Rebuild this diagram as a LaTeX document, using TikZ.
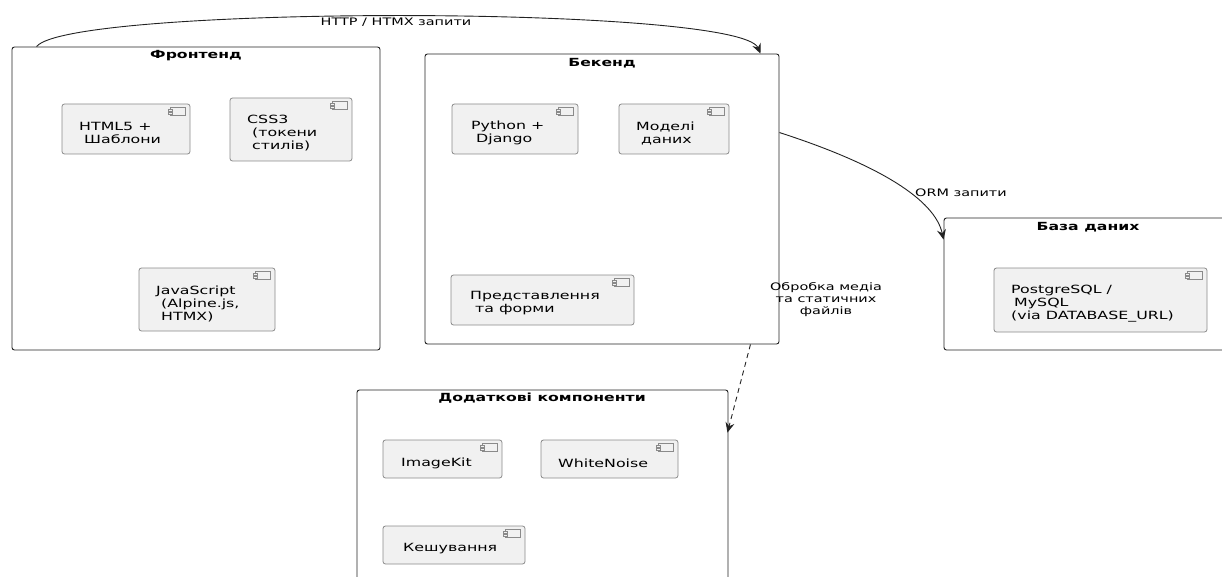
\documentclass[tikz,border=0pt]{standalone}
\usepackage{fontspec}
\setmainfont{DejaVu Sans}[FakeStretch=1.4]
\usetikzlibrary{calc,arrows.meta}
\definecolor{compfill}{HTML}{F1F1F1}
\definecolor{compline}{HTML}{8A8A8A}
\definecolor{grpline}{HTML}{222222}
\tikzset{
  grp/.style={draw=grpline, line width=0.9pt, rounded corners=2.5pt, inner sep=0pt},
  comp/.style={draw=compline, fill=compfill, line width=0.8pt, rounded corners=2.5pt, inner sep=0pt},
  grptitle/.style={font=\fontsize{11.2pt}{12pt}\selectfont\bfseries, inner sep=0pt},
  comptext/.style={font=\fontsize{11.3pt}{13pt}\selectfont, align=left, anchor=west, inner sep=0pt},
  elabel/.style={font=\fontsize{10.3pt}{12pt}\selectfont, inner sep=0pt},
  iconst/.style={draw=compline, line width=0.6pt, fill=compfill},
  conn/.style={draw=grpline, line width=0.9pt, -{Stealth[length=10pt,width=9pt,inset=3.5pt]}}
}
\newcommand\compicon[1]{%
  \draw[iconst] ($(#1.north east)+(-20,4)$) rectangle ($(#1.north east)+(-5,12)$);
  \draw[iconst] ($(#1.north east)+(-22,5.5)$) rectangle ($(#1.north east)+(-18,7.5)$);
  \draw[iconst] ($(#1.north east)+(-22,8.5)$) rectangle ($(#1.north east)+(-18,10.5)$);
}
\begin{document}
\begin{tikzpicture}[x=1pt,y=-1pt]
\useasboundingbox (0,0) rectangle (1222,577);
\clip (0,0) rectangle (1222,577);
% groups
\node[grp, minimum width=368pt, minimum height=303pt] (fe) at (196,198.5) {};
\node[grptitle] (fe-t) at (196,56) {Фронтенд};
\node[grp, minimum width=354pt, minimum height=290pt] (be) at (602,199) {};
\node[grptitle] (be-t) at (602,63) {Бекенд};
\node[grp, minimum width=296pt, minimum height=132pt] (db) at (1092,284) {};
\node[grptitle] (db-t) at (1088,227) {База даних};
\node[grp, minimum width=371pt, minimum height=210pt] (ad) at (542.5,495) {};
\node[grptitle] (ad-t) at (542,398) {Додаткові компоненти};
% components
\node[comp, minimum width=128pt, minimum height=50pt] (html) at (126,129) {};
\node[comptext] (html-t) at (79,133) {HTML5 +\\\hspace*{5pt}Шаблони};
\compicon{html}
\node[comp, minimum width=122pt, minimum height=63pt] (css) at (291,129.5) {};
\node[comptext] (css-t) at (247,133) {CSS3\\\hspace*{5pt}(токени\\\hspace*{5pt}стилів)};
\compicon{css}
\node[comp, minimum width=136pt, minimum height=63pt] (js) at (207,299.5) {};
\node[comptext] (js-t) at (156,304) {JavaScript\\\hspace*{5pt}(Alpine.js,\\\hspace*{5pt}HTMX)};
\compicon{js}
\node[comp, minimum width=126pt, minimum height=50pt] (py) at (515,129) {};
\node[comptext] (py-t) at (471,133) {Python +\\\hspace*{5pt}Django};
\compicon{py}
\node[comp, minimum width=110pt, minimum height=50pt] (models) at (674,129) {};
\node[comptext] (models-t) at (636,133) {Моделі\\\hspace*{5pt}даних};
\compicon{models}
\node[comp, minimum width=183pt, minimum height=50pt] (views) at (542.5,300) {};
\node[comptext] (views-t) at (470,303.5) {Представлення\\\hspace*{5pt}та форми};
\compicon{views}
\node[comp, minimum width=213pt, minimum height=64pt] (pg) at (1100.5,300) {};
\node[comptext] (pg-t) at (1011,304) {PostgreSQL /\\\hspace*{3pt}MySQL\\(via DATABASE\_URL)};
\compicon{pg}
\node[comp, minimum width=119pt, minimum height=38pt] (ik) at (442.5,459) {};
\node[comptext] (ik-t) at (401,463) {ImageKit};
\compicon{ik}
\node[comp, minimum width=137pt, minimum height=38pt] (wn) at (609.5,459) {};
\node[comptext] (wn-t) at (558,463) {WhiteNoise};
\compicon{wn}
\node[comp, minimum width=142pt, minimum height=38pt] (cache) at (454,545) {};
\node[comptext] (cache-t) at (403,549) {Кешування};
\compicon{cache}
% connectors
\coordinate (fe-out) at ($(fe.north west)+(25,0)$);
\coordinate (be-in) at ($(be.north east)+(-19,0)$);
\draw[conn] (fe-out) .. controls (70,5) and (740,5) .. (be-in);
\node[elabel] (http-l) at (396,22) {HTTP / HTMX запити};
\coordinate (be-orm) at ($(be.north east)+(0,79)$);
\coordinate (db-in) at ($(db.north west)+(0,22)$);
\draw[conn] (be-orm) .. controls (880,165) and (935,200) .. (db-in);
\node[elabel, anchor=west] (orm-l) at (915,193) {ORM запити};
\coordinate (be-med) at ($(be.south east)+(-29,0)$);
\coordinate (ad-in) at ($(ad.north east)+(-1,43)$);
\draw[conn, dashed, dash pattern=on 5pt off 4pt] (be-med) -- (ad-in);
\node[elabel, align=center] (med-l) at (826,300) {Обробка медіа\\та статичних\\файлів};
\end{tikzpicture}
\end{document}
